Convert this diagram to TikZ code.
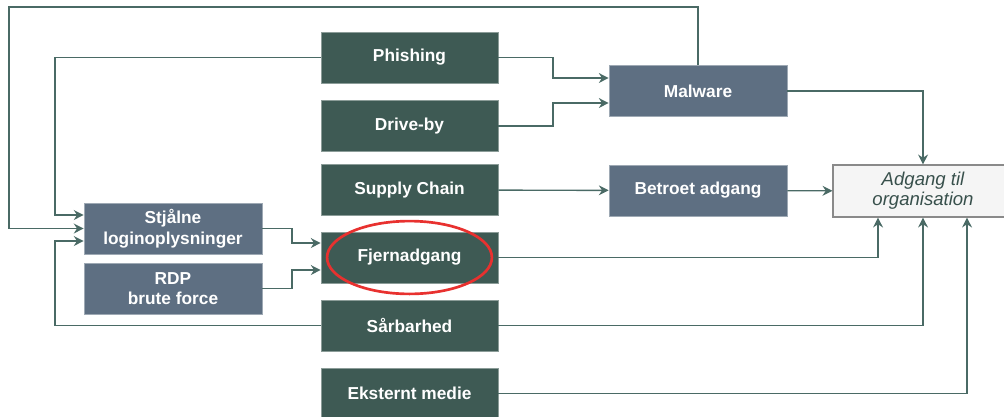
\documentclass[tikz,border=0pt]{standalone}
\usepackage{fontspec}
\setmainfont{Liberation Sans}
\usetikzlibrary{arrows.meta}
\definecolor{vecgreen}{HTML}{3E5A54}
\definecolor{vecslate}{HTML}{5E6F82}
\definecolor{vecline}{HTML}{4A6A65}
\definecolor{vecframe}{HTML}{8A8A8A}
\definecolor{vecfill}{HTML}{F5F5F5}
\definecolor{vecred}{HTML}{E8312F}
\tikzset{
  vector/.style={fill=vecgreen, draw=vecgreen!60!white, text=white, font=\fontsize{12.3}{14.7}\selectfont\bfseries,
    minimum width=4.425cm, minimum height=1.275cm, inner sep=0pt, align=center},
  stage/.style={vector, fill=vecslate, draw=vecslate!60!white, minimum width=4.45cm},
  goal/.style={fill=vecfill, draw=vecframe, text=vecline!75!black, font=\fontsize{13.2}{14}\selectfont\itshape,
    minimum width=4.5cm, minimum height=1.3cm, inner sep=0pt, align=center, line width=0.8pt},
  arr/.style={draw=vecline, line width=1pt, -{Stealth[length=7pt,width=7pt]}}
}
\begin{document}
\begin{tikzpicture}[x=0.025cm, y=-0.025cm]
  \useasboundingbox (0,0) rectangle (1004,416);
  % attack vectors
  \node[vector] (phish) at (409.5,57.5) {Phishing};
  \node[vector] (drive) at (409.5,126) {Drive-by};
  \node[vector] (supply) at (409.5,190) {Supply Chain};
  \node[vector] (fjern) at (409.5,257.5) {Fjernadgang};
  \node[vector] (saar) at (409.5,325.5) {Sårbarhed};
  \node[vector] (ekst) at (409.5,393.5) {Eksternt medie};
  % intermediate stages
  \node[stage] (mal) at (698,91) {Malware};
  \node[stage] (betro) at (698,190.5) {Betroet adgang};
  \node[stage] (stj) at (173,228.5) {Stjålne\\loginoplysninger};
  \node[stage] (rdp) at (173,288.5) {RDP\\brute force};
  % goal
  \node[goal] (org) at (923,191) {Adgang til\\organisation};
  \coordinate (top) at (9,7);
  % arrows
  \draw[arr] (mal.north) |- (top) |- (stj.west);
  \draw[arr] (phish.west) -| (55,215) -- (stj.west |- 0,215);
  \draw[arr] (saar.west) -| (55,241) -- (stj.west |- 0,241);
  \draw[arr] (phish.east) -| (553,78) -- (mal.west |- 0,78);
  \draw[arr] (drive.east) -| (553,103) -- (mal.west |- 0,103);
  \draw[arr] (supply) -- (betro);
  \draw[arr] (betro) -- (org);
  \draw[arr] (mal.east) -| (org.north);
  \draw[arr] (stj.east) -| (292,243) -- (fjern.west |- 0,243);
  \draw[arr] (rdp.east) -| (292,270) -- (fjern.west |- 0,270);
  \draw[arr] (fjern.east) -| (org.south -| 878,0);
  \draw[arr] (saar.east) -| (org.south);
  \draw[arr] (ekst.east) -| (org.south -| 967,0);
  % highlight
  \draw[vecred, line width=1.9pt] (fjern) ellipse [x radius=2.06cm, y radius=0.91cm];
\end{tikzpicture}
\end{document}
